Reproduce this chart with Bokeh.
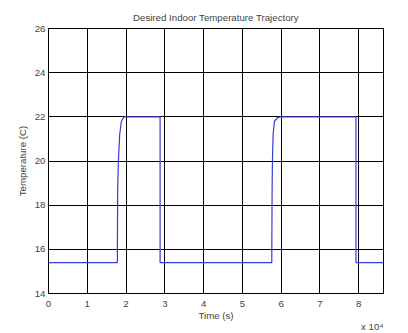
from bokeh.plotting import figure
from bokeh.models import Range1d, FixedTicker, Title
from bokeh.embed import file_html
from bokeh.resources import INLINE

# --- data ---
time_s = [0, 17760, 17770, 17840, 18030, 18360, 18800, 19470, 28780, 28780,
          57590, 57600, 57670, 57760, 57930, 58270, 59130, 59800, 79300, 79300, 86400]
temp_c = [15.4, 15.4, 16.1, 18.7, 20.0, 21.2, 21.8, 22.0, 22.0, 15.4,
          15.4, 16.1, 18.7, 20.0, 21.2, 21.8, 21.97, 22.0, 22.0, 15.4, 15.4]

x_ticks = [0, 10000, 20000, 30000, 40000, 50000, 60000, 70000, 80000]
x_tick_labels = ["0", "1", "2", "3", "4", "5", "6", "7", "8"]
y_ticks = [14, 16, 18, 20, 22, 24, 26]
x_scale_text = "x 10\u2074"

FONT = "Liberation Sans"
FS = "9.7px"

p = figure(width=408, height=333, output_backend="svg", toolbar_location=None,
           x_range=Range1d(0, 86400), y_range=Range1d(14, 26),
           min_border_left=48, min_border_right=25, min_border_top=28, min_border_bottom=40,
           title="Desired Indoor Temperature Trajectory")

p.title.align = "center"
p.title.text_font = FONT
p.title.text_font_size = FS
p.title.text_font_style = "normal"
p.title.standoff = 11

p.line(time_s, temp_c, line_color="#3a3ad6", line_width=1.2)

p.xaxis.ticker = FixedTicker(ticks=x_ticks)
p.xaxis.major_label_overrides = {t: l for t, l in zip(x_ticks, x_tick_labels)}
p.yaxis.ticker = FixedTicker(ticks=y_ticks)

for ax in (p.xaxis[0], p.yaxis[0]):
    ax.major_label_text_font = FONT
    ax.major_label_text_font_size = FS
    ax.axis_label_text_font = FONT
    ax.axis_label_text_font_size = FS
    ax.axis_label_text_font_style = "normal"
    ax.major_tick_in = 0
    ax.major_tick_out = 0
    ax.minor_tick_in = 0
    ax.minor_tick_out = 0
    ax.axis_line_color = "black"

p.xaxis.axis_label = "Time (s)"
p.yaxis.axis_label = "Temperature (C)"
p.xaxis.major_label_standoff = 7
p.xaxis.axis_label_standoff = 0
p.yaxis.major_label_standoff = 3
p.yaxis.axis_label_standoff = 4

p.grid.grid_line_color = "black"
p.grid.grid_line_alpha = 1.0
p.grid.grid_line_width = 1
p.outline_line_color = "black"
p.outline_line_alpha = 1.0

scale_title = Title(text=x_scale_text, align="right", text_font=FONT, text_font_size=FS,
                    text_font_style="normal", standoff=-10, offset=0)
p.add_layout(scale_title, "below")

open("out.html", "w").write(file_html(p, INLINE))
